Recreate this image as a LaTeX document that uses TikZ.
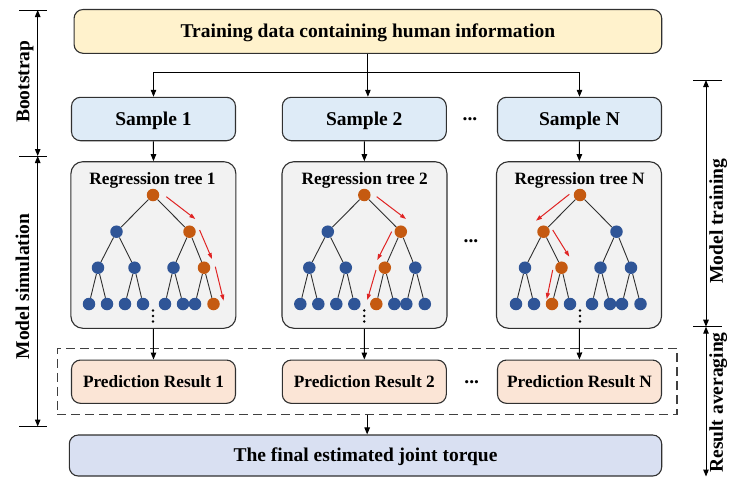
\documentclass[tikz,border=0pt]{standalone}
\usepackage{fontspec}
\setmainfont{Liberation Serif}
\usetikzlibrary{arrows.meta}
\pgfdeclarelayer{front}
\pgfsetlayers{main,front}

\definecolor{lineGray}{HTML}{303030}
\definecolor{fillYellow}{HTML}{FFF2CC}
\definecolor{fillBlue}{HTML}{DEEBF7}
\definecolor{fillGray}{HTML}{F2F2F2}
\definecolor{fillPeach}{HTML}{FBE5D6}
\definecolor{fillLav}{HTML}{D9E0F2}
\definecolor{nodeBlue}{HTML}{2F5597}
\definecolor{nodeOrange}{HTML}{C55A11}
\definecolor{pathRed}{HTML}{E02424}
\definecolor{dashGray}{HTML}{404040}

\newcommand\bigfont{\fontsize{19.5}{23}\selectfont\bfseries}
\newcommand\midfont{\fontsize{17.3}{20}\selectfont\bfseries}

\tikzset{
  box/.style={draw=lineGray, line width=1.1pt, rounded corners=9pt, inner sep=0pt,
    font=\bigfont, text height=12.9pt, text depth=0pt},
  sampbox/.style={box, fill=fillBlue, minimum width=164pt, minimum height=43.4pt},
  predbox/.style={box, fill=fillPeach, minimum width=164pt, minimum height=43.3pt, font=\midfont, text height=11.4pt},
  treebox/.style={draw=lineGray, line width=1.1pt, rounded corners=12pt, fill=fillGray,
    minimum width=165pt, minimum height=166.6pt, inner sep=0pt},
  treetitle/.style={font=\midfont, inner sep=0pt, text height=11.4pt, text depth=0pt},
  sidelabel/.style={font=\bigfont, rotate=90, inner sep=0pt, text height=12.9pt, text depth=0pt},
  ellip/.style={font=\bigfont, inner sep=0pt, anchor=base},
  arr/.style={draw=black, line width=1pt, -{Triangle[length=7pt,width=5.5pt]}},
  dimarr/.style={draw=black, line width=1pt, {Triangle[length=7pt,width=5.5pt]}-{Triangle[length=7pt,width=5.5pt]}},
  tickline/.style={draw=black, line width=1pt},
  redarr/.style={draw=pathRed, line width=1pt, -{Triangle[length=6pt,width=4pt]}},
  tedge/.style={draw=lineGray, line width=0.9pt},
  tnode/.style={circle, fill=nodeBlue, inner sep=0pt, minimum size=12.5pt},
  hot/.style={fill=nodeOrange},
  tcol/.style={tn-#1/.try},
  pics/rtree/.style={code={
    \begin{pgfonlayer}{front}
      \foreach \id/\px/\py in {r/0/0, a/-36.5/36.7, b/36.5/36.7,
          aa/-55/72.7, ab/-18.5/72.7, ba/20.5/72.7, bb/51/72.7,
          aaa/-64/109, aab/-46/109, aba/-28/109, abb/-10/109,
          baa/12/109, bab/30/109, bba/42/109, bbb/60.5/109}
        \node[tnode, tcol/.expanded=\id] (-\id) at (\px,\py) {};
    \end{pgfonlayer}
    \foreach \p/\c in {r/a, r/b, a/aa, a/ab, b/ba, b/bb, aa/aaa, aa/aab,
        ab/aba, ab/abb, ba/baa, ba/bab, bb/bba, bb/bbb}
      \draw[tedge] (-\p) -- (-\c);
    % vertical ellipsis below the leaves
    \foreach \k in {0,1,2}
      \fill[black] (0,115.5+5.5*\k) circle (1.4pt);
  }}
}

\begin{document}
\begin{tikzpicture}[x=1pt,y=-1pt]
\useasboundingbox (0,0) rectangle (729,477);

% input data and bootstrap samples
\node[box, fill=fillYellow, minimum width=587.7pt, minimum height=43.8pt] (top) at (367.9,31.4)
  {Training data containing human information};
\node[sampbox] (s1) at (153.5,119) {Sample 1};
\node[sampbox] (s2) at (364.3,119) {Sample 2};
\node[sampbox] (sN) at (579.5,119) {Sample N};
\node[ellip] (sdots) at (470,120.6) {...};

\coordinate (split) at (367.9,72.7);
\draw[arr] (top.south) -- (top.south |- s2.north);
\draw[arr] (split) -| (s1);
\draw[arr] (split) -| (sN);

% regression trees
\node[treebox] (t1) at (153.4,245) {};
\node[treebox] (t2) at (364.5,245) {};
\node[treebox] (tN) at (579,245) {};
\node[treetitle] (t1t) at (152.5,179) {Regression tree 1};
\node[treetitle] (t2t) at (364.7,179) {Regression tree 2};
\node[treetitle] (tNt) at (579.7,179) {Regression tree N};
\node[ellip] (tdots) at (471,242.3) {...};

\draw[arr] (s1) -- (t1);
\draw[arr] (s2) -- (t2);
\draw[arr] (sN) -- (tN);

\pic[tn-r/.style={hot}, tn-b/.style={hot}, tn-bb/.style={hot}, tn-bbb/.style={hot}]
  (r1) at (153,195) {rtree};
\pic[tn-r/.style={hot}, tn-b/.style={hot}, tn-ba/.style={hot}, tn-baa/.style={hot}]
  (r2) at (364.3,195) {rtree};
\pic[tn-r/.style={hot}, tn-a/.style={hot}, tn-ab/.style={hot}, tn-aba/.style={hot}]
  (rN) at (580,195) {rtree};

% decision paths
\begin{scope}[shift={(r1-r)}]
  \draw[redarr] (13.3,1.7) -- (42.3,24);
  \draw[redarr] (46.6,35) -- (59,64);
  \draw[redarr] (62.3,71.7) -- (70.6,105.7);
\end{scope}
\begin{scope}[shift={(r2-r)}]
  \draw[redarr] (12.4,1.7) -- (41.7,24);
  \draw[redarr] (27.4,36.7) -- (13,65);
  \draw[redarr] (11.7,75) -- (3,105);
\end{scope}
\begin{scope}[shift={(rN-r)}]
  \draw[redarr] (-10.7,-0.7) -- (-44,25.7);
  \draw[redarr] (-27.3,35) -- (-10.7,61.7);
  \draw[redarr] (-27.3,75) -- (-33.3,104);
\end{scope}

% predictions and averaging
\node[draw=dashGray, line width=1.2pt, dash pattern=on 9pt off 5pt, inner sep=0pt,
  minimum width=619.7pt, minimum height=66pt] (avg) at (367.15,381.3) {};
\node[predbox] (p1) at (153.5,381.7) {Prediction Result 1};
\node[predbox] (p2) at (364.3,381.7) {Prediction Result 2};
\node[predbox] (pN) at (579.5,381.7) {Prediction Result N};
\node[ellip] (pdots) at (471.7,383.3) {...};

\draw[arr] (t1) -- (p1);
\draw[arr] (t2) -- (p2);
\draw[arr] (tN) -- (pN);

\node[box, fill=fillLav, minimum width=592.4pt, minimum height=41pt] (fin) at (365.5,455.5)
  {The final estimated joint torque};
\draw[arr] (avg.south) -- (avg.south |- fin.north);

% stage brackets, left
\coordinate (lA) at (37.7,10);
\coordinate (lB) at (37.7,156);
\coordinate (lC) at (37.7,426.5);
\draw[tickline] (19,10) -- (46.7,10);
\draw[tickline] (19,156) -- (46.7,156);
\draw[tickline] (19,426.5) -- (46.7,426.5);
\draw[dimarr] (lA) -- (lB);
\draw[dimarr] (lB) -- (lC);
\node[sidelabel] (lbBoot) at (23,81.7) {Bootstrap};
\node[sidelabel] (lbSim) at (22.7,286.5) {Model simulation};

% stage brackets, right
\coordinate (rA) at (706,80);
\coordinate (rB) at (706,326.7);
\coordinate (rC) at (706,476.5);
\draw[tickline] (693,80) -- (721.7,80);
\draw[tickline] (693,326.7) -- (721.7,326.7);
\draw[dimarr] (rA) -- (rB);
\draw[dimarr] (rB) -- (rC);
\node[sidelabel] (lbTrain) at (716.3,221) {Model training};
\node[sidelabel] (lbAvg) at (716.5,402.5) {Result averaging};
\end{tikzpicture}
\end{document}
